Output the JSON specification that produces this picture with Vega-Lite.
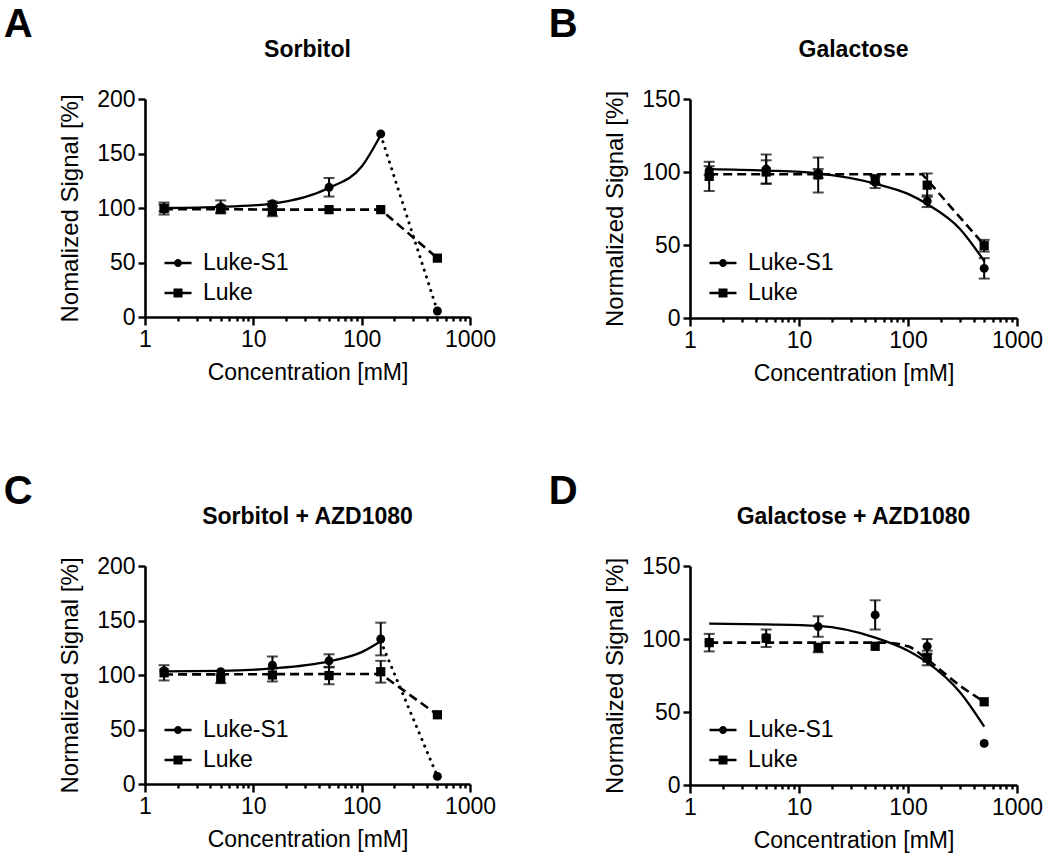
{
  "$schema": "https://vega.github.io/schema/vega-lite/v6.json",
  "padding": {"left": 3, "top": 5, "right": 5, "bottom": 5},
  "background": "white",
  "datasets": {
    "pts": [
      {"panel": "A", "series": "Luke-S1", "conc": 1.5, "y": 100, "err": 3},
      {"panel": "A", "series": "Luke-S1", "conc": 5, "y": 101, "err": 6},
      {"panel": "A", "series": "Luke-S1", "conc": 15, "y": 104, "err": 2},
      {"panel": "A", "series": "Luke-S1", "conc": 50, "y": 119, "err": 8.5},
      {"panel": "A", "series": "Luke-S1", "conc": 150, "y": 168, "err": 0},
      {"panel": "A", "series": "Luke-S1", "conc": 500, "y": 5.5, "err": 0},
      {"panel": "A", "series": "Luke", "conc": 1.5, "y": 99.5, "err": 5.5},
      {"panel": "A", "series": "Luke", "conc": 5, "y": 99, "err": 3},
      {"panel": "A", "series": "Luke", "conc": 15, "y": 97, "err": 4.5},
      {"panel": "A", "series": "Luke", "conc": 50, "y": 98.5, "err": 0},
      {"panel": "A", "series": "Luke", "conc": 150, "y": 98.5, "err": 0},
      {"panel": "A", "series": "Luke", "conc": 500, "y": 54, "err": 0},
      {"panel": "B", "series": "Luke-S1", "conc": 1.5, "y": 101, "err": 3},
      {"panel": "B", "series": "Luke-S1", "conc": 5, "y": 102, "err": 10},
      {"panel": "B", "series": "Luke-S1", "conc": 15, "y": 99, "err": 3},
      {"panel": "B", "series": "Luke-S1", "conc": 50, "y": 93, "err": 4},
      {"panel": "B", "series": "Luke-S1", "conc": 150, "y": 80, "err": 4},
      {"panel": "B", "series": "Luke-S1", "conc": 500, "y": 34, "err": 7},
      {"panel": "B", "series": "Luke", "conc": 1.5, "y": 97, "err": 10},
      {"panel": "B", "series": "Luke", "conc": 5, "y": 100, "err": 8},
      {"panel": "B", "series": "Luke", "conc": 15, "y": 98, "err": 12},
      {"panel": "B", "series": "Luke", "conc": 50, "y": 95, "err": 3},
      {"panel": "B", "series": "Luke", "conc": 150, "y": 91, "err": 8},
      {"panel": "B", "series": "Luke", "conc": 500, "y": 49.5, "err": 4},
      {"panel": "C", "series": "Luke-S1", "conc": 1.5, "y": 104, "err": 0},
      {"panel": "C", "series": "Luke-S1", "conc": 5, "y": 103, "err": 0},
      {"panel": "C", "series": "Luke-S1", "conc": 15, "y": 109, "err": 8},
      {"panel": "C", "series": "Luke-S1", "conc": 50, "y": 113, "err": 6},
      {"panel": "C", "series": "Luke-S1", "conc": 150, "y": 133, "err": 15},
      {"panel": "C", "series": "Luke-S1", "conc": 500, "y": 7, "err": 0},
      {"panel": "C", "series": "Luke", "conc": 1.5, "y": 102, "err": 7},
      {"panel": "C", "series": "Luke", "conc": 5, "y": 96.5, "err": 4},
      {"panel": "C", "series": "Luke", "conc": 15, "y": 100, "err": 6},
      {"panel": "C", "series": "Luke", "conc": 50, "y": 99.5, "err": 8},
      {"panel": "C", "series": "Luke", "conc": 150, "y": 103, "err": 10},
      {"panel": "C", "series": "Luke", "conc": 500, "y": 63.5, "err": 0},
      {"panel": "D", "series": "Luke-S1", "conc": 1.5, "y": 98, "err": 0},
      {"panel": "D", "series": "Luke-S1", "conc": 5, "y": 101, "err": 0},
      {"panel": "D", "series": "Luke-S1", "conc": 15, "y": 108.5, "err": 7},
      {"panel": "D", "series": "Luke-S1", "conc": 50, "y": 116.5, "err": 10},
      {"panel": "D", "series": "Luke-S1", "conc": 150, "y": 95, "err": 5},
      {"panel": "D", "series": "Luke-S1", "conc": 500, "y": 28.5, "err": 0},
      {"panel": "D", "series": "Luke", "conc": 1.5, "y": 97.5, "err": 6},
      {"panel": "D", "series": "Luke", "conc": 5, "y": 100.5, "err": 6},
      {"panel": "D", "series": "Luke", "conc": 15, "y": 94, "err": 3},
      {"panel": "D", "series": "Luke", "conc": 50, "y": 95, "err": 0},
      {"panel": "D", "series": "Luke", "conc": 150, "y": 87, "err": 5},
      {"panel": "D", "series": "Luke", "conc": 500, "y": 57, "err": 0}
    ],
    "curves": [
      {"panel": "A", "style": "solid", "conc": 1.5, "y": 100},
      {"panel": "A", "style": "solid", "conc": 5, "y": 101},
      {"panel": "A", "style": "solid", "conc": 15, "y": 104},
      {"panel": "A", "style": "solid", "conc": 50, "y": 118.5},
      {"panel": "A", "style": "solid", "conc": 100, "y": 138},
      {"panel": "A", "style": "solid", "conc": 150, "y": 167},
      {"panel": "A", "style": "dashed", "conc": 1.5, "y": 99},
      {"panel": "A", "style": "dashed", "conc": 5, "y": 99},
      {"panel": "A", "style": "dashed", "conc": 15, "y": 98.5},
      {"panel": "A", "style": "dashed", "conc": 50, "y": 98.5},
      {"panel": "A", "style": "dashed", "conc": 150, "y": 98.5},
      {"panel": "A", "style": "dashed", "conc": 500, "y": 54},
      {"panel": "A", "style": "dotted", "conc": 150, "y": 167},
      {"panel": "A", "style": "dotted", "conc": 500, "y": 5.5},
      {"panel": "B", "style": "solid", "conc": 1.5, "y": 102},
      {"panel": "B", "style": "solid", "conc": 5, "y": 101},
      {"panel": "B", "style": "solid", "conc": 15, "y": 99},
      {"panel": "B", "style": "solid", "conc": 50, "y": 92},
      {"panel": "B", "style": "solid", "conc": 100, "y": 85},
      {"panel": "B", "style": "solid", "conc": 150, "y": 78},
      {"panel": "B", "style": "solid", "conc": 300, "y": 61},
      {"panel": "B", "style": "solid", "conc": 500, "y": 39},
      {"panel": "B", "style": "dashed", "conc": 1.5, "y": 98.5},
      {"panel": "B", "style": "dashed", "conc": 135, "y": 98.5},
      {"panel": "B", "style": "dashed", "conc": 500, "y": 50},
      {"panel": "C", "style": "solid", "conc": 1.5, "y": 103.4},
      {"panel": "C", "style": "solid", "conc": 5, "y": 103.8},
      {"panel": "C", "style": "solid", "conc": 15, "y": 106},
      {"panel": "C", "style": "solid", "conc": 50, "y": 112.5},
      {"panel": "C", "style": "solid", "conc": 100, "y": 121},
      {"panel": "C", "style": "solid", "conc": 150, "y": 131},
      {"panel": "C", "style": "dashed", "conc": 1.5, "y": 100.5},
      {"panel": "C", "style": "dashed", "conc": 150, "y": 101},
      {"panel": "C", "style": "dashed", "conc": 500, "y": 63.5},
      {"panel": "C", "style": "dotted", "conc": 150, "y": 131},
      {"panel": "C", "style": "dotted", "conc": 500, "y": 7},
      {"panel": "D", "style": "solid", "conc": 1.5, "y": 110.5},
      {"panel": "D", "style": "solid", "conc": 5, "y": 110},
      {"panel": "D", "style": "solid", "conc": 15, "y": 109},
      {"panel": "D", "style": "solid", "conc": 50, "y": 101},
      {"panel": "D", "style": "solid", "conc": 100, "y": 92},
      {"panel": "D", "style": "solid", "conc": 150, "y": 84},
      {"panel": "D", "style": "solid", "conc": 300, "y": 63.5},
      {"panel": "D", "style": "solid", "conc": 500, "y": 40},
      {"panel": "D", "style": "dashedfit", "conc": 1.5, "y": 97.5},
      {"panel": "D", "style": "dashedfit", "conc": 60, "y": 97.5},
      {"panel": "D", "style": "dashedfit", "conc": 100, "y": 95},
      {"panel": "D", "style": "dashedfit", "conc": 150, "y": 86},
      {"panel": "D", "style": "dashedfit", "conc": 300, "y": 68},
      {"panel": "D", "style": "dashedfit", "conc": 500, "y": 57}
    ]
  },
  "spacing": 87,
  "resolve": {"scale": {"x": "independent", "y": "independent", "color": "independent", "fill": "independent"}, "legend": {"color": "independent", "fill": "independent"}, "axis": {"x": "independent", "y": "independent"}},
  "vconcat": [
    {
      "spacing": 52,
      "resolve": {"scale": {"x": "independent", "y": "independent", "color": "independent", "fill": "independent"}, "legend": {"color": "independent", "fill": "independent"}, "axis": {"x": "independent", "y": "independent"}},
      "hconcat": [
        {
          "title": {"text": "A", "anchor": "start", "fontSize": 40, "fontWeight": "bold", "dx": -55, "offset": -6},
          "resolve": {"scale": {"color": "independent", "fill": "independent"}, "legend": {"color": "independent", "fill": "independent"}},
          "vconcat": [
            {
              "title": {"text": "Sorbitol", "fontSize": 23, "fontWeight": "bold", "offset": 26},
              "width": 325, "height": 218,
              "encoding": {
                "x": {"field": "conc", "type": "quantitative", "scale": {"type": "log", "domain": [1, 1000], "nice": false}, "axis": {"title": "Concentration [mM]", "values": [1,2,3,4,5,6,7,8,9,10,20,30,40,50,60,70,80,90,100,200,300,400,500,600,700,800,900,1000], "labelExpr": "(datum.value == 1 || datum.value == 10 || datum.value == 100 || datum.value == 1000) ? format(datum.value, 'd') : ''", "labelOverlap": false, "labelFlush": false, "tickSize": {"condition": {"test": "datum.value == 1 || datum.value == 10 || datum.value == 100 || datum.value == 1000", "value": 8}, "value": 4}}},
                "y": {"field": "y", "type": "quantitative", "scale": {"domain": [0, 200], "nice": false}, "axis": {"title": "Nomalized Signal [%]", "values": [0, 50, 100, 150, 200]}}
              },
              "layer": [
                {"data": {"name": "curves"}, "transform": [{"filter": "datum.panel === 'A' && datum.style === 'solid'"}], "mark": {"type": "line", "color": "black", "strokeWidth": 2.3, "interpolate": "monotone"}},
                {"data": {"name": "curves"}, "transform": [{"filter": "datum.panel === 'A' && datum.style === 'dashed'"}], "mark": {"type": "line", "color": "black", "strokeWidth": 2.6, "strokeDash": [9, 5]}},
                {"data": {"name": "curves"}, "transform": [{"filter": "datum.panel === 'A' && datum.style === 'dotted'"}], "mark": {"type": "line", "color": "black", "strokeWidth": 3, "strokeDash": [0.1, 7], "strokeCap": "round"}},
                {"data": {"name": "pts"}, "transform": [{"filter": "datum.panel === 'A' && datum.err > 0"}], "mark": {"type": "errorbar", "color": "black", "ticks": {"size": 11, "thickness": 2}, "rule": {"strokeWidth": 2}}, "encoding": {"yError": {"field": "err"}}},
                {"data": {"name": "pts"}, "transform": [{"filter": "datum.panel === 'A' && datum.series === 'Luke-S1'"}], "mark": {"type": "point", "shape": "circle", "filled": true, "opacity": 1, "size": 80},
                 "encoding": {"color": {"field": "series", "type": "nominal", "scale": {"domain": ["Luke-S1"], "range": ["black"]}, "legend": {"title": null, "orient": "none", "legendX": 21, "legendY": 152, "labelOffset": 13, "symbolSize": 576, "padding": 0, "symbolStrokeWidth": 0, "symbolType": "M-1.125,-0.1H1.125V0.1H-1.125Z M0.33,0A0.33,0.33 0 1,1 -0.33,0A0.33,0.33 0 1,1 0.33,0Z"}}}},
                {"data": {"name": "pts"}, "transform": [{"filter": "datum.panel === 'A' && datum.series === 'Luke'"}], "mark": {"type": "point", "shape": "square", "filled": true, "opacity": 1, "size": 85},
                 "encoding": {"fill": {"field": "series", "type": "nominal", "scale": {"domain": ["Luke"], "range": ["black"]}, "legend": {"title": null, "orient": "none", "legendX": 21, "legendY": 182, "labelOffset": 13, "symbolSize": 576, "padding": 0, "symbolStrokeWidth": 0, "symbolType": "M-1.125,-0.1H1.125V0.1H-1.125Z M-0.375,-0.375H0.375V0.375H-0.375Z"}}}}
              ]
            }
          ]
        },
        {
          "title": {"text": "B", "anchor": "start", "fontSize": 40, "fontWeight": "bold", "dx": -55, "offset": -6},
          "resolve": {"scale": {"color": "independent", "fill": "independent"}, "legend": {"color": "independent", "fill": "independent"}},
          "vconcat": [
            {
              "title": {"text": "Galactose", "fontSize": 23, "fontWeight": "bold", "offset": 26},
              "width": 327, "height": 219,
              "encoding": {
                "x": {"field": "conc", "type": "quantitative", "scale": {"type": "log", "domain": [1, 1000], "nice": false}, "axis": {"title": "Concentration [mM]", "values": [1,2,3,4,5,6,7,8,9,10,20,30,40,50,60,70,80,90,100,200,300,400,500,600,700,800,900,1000], "labelExpr": "(datum.value == 1 || datum.value == 10 || datum.value == 100 || datum.value == 1000) ? format(datum.value, 'd') : ''", "labelOverlap": false, "labelFlush": false, "tickSize": {"condition": {"test": "datum.value == 1 || datum.value == 10 || datum.value == 100 || datum.value == 1000", "value": 8}, "value": 4}}},
                "y": {"field": "y", "type": "quantitative", "scale": {"domain": [0, 150], "nice": false}, "axis": {"title": "Normalized Signal [%]", "values": [0, 50, 100, 150]}}
              },
              "layer": [
                {"data": {"name": "curves"}, "transform": [{"filter": "datum.panel === 'B' && datum.style === 'solid'"}], "mark": {"type": "line", "color": "black", "strokeWidth": 2.3, "interpolate": "monotone"}},
                {"data": {"name": "curves"}, "transform": [{"filter": "datum.panel === 'B' && datum.style === 'dashed'"}], "mark": {"type": "line", "color": "black", "strokeWidth": 2.6, "strokeDash": [9, 5]}},
                {"data": {"name": "pts"}, "transform": [{"filter": "datum.panel === 'B' && datum.err > 0"}], "mark": {"type": "errorbar", "color": "black", "ticks": {"size": 11, "thickness": 2}, "rule": {"strokeWidth": 2}}, "encoding": {"yError": {"field": "err"}}},
                {"data": {"name": "pts"}, "transform": [{"filter": "datum.panel === 'B' && datum.series === 'Luke-S1'"}], "mark": {"type": "point", "shape": "circle", "filled": true, "opacity": 1, "size": 80},
                 "encoding": {"color": {"field": "series", "type": "nominal", "scale": {"domain": ["Luke-S1"], "range": ["black"]}, "legend": {"title": null, "orient": "none", "legendX": 21, "legendY": 152, "labelOffset": 13, "symbolSize": 576, "padding": 0, "symbolStrokeWidth": 0, "symbolType": "M-1.125,-0.1H1.125V0.1H-1.125Z M0.33,0A0.33,0.33 0 1,1 -0.33,0A0.33,0.33 0 1,1 0.33,0Z"}}}},
                {"data": {"name": "pts"}, "transform": [{"filter": "datum.panel === 'B' && datum.series === 'Luke'"}], "mark": {"type": "point", "shape": "square", "filled": true, "opacity": 1, "size": 85},
                 "encoding": {"fill": {"field": "series", "type": "nominal", "scale": {"domain": ["Luke"], "range": ["black"]}, "legend": {"title": null, "orient": "none", "legendX": 21, "legendY": 182, "labelOffset": 13, "symbolSize": 576, "padding": 0, "symbolStrokeWidth": 0, "symbolType": "M-1.125,-0.1H1.125V0.1H-1.125Z M-0.375,-0.375H0.375V0.375H-0.375Z"}}}}
              ]
            }
          ]
        }
      ]
    },
    {
      "spacing": 52,
      "resolve": {"scale": {"x": "independent", "y": "independent", "color": "independent", "fill": "independent"}, "legend": {"color": "independent", "fill": "independent"}, "axis": {"x": "independent", "y": "independent"}},
      "hconcat": [
        {
          "title": {"text": "C", "anchor": "start", "fontSize": 40, "fontWeight": "bold", "dx": -55, "offset": -6},
          "resolve": {"scale": {"color": "independent", "fill": "independent"}, "legend": {"color": "independent", "fill": "independent"}},
          "vconcat": [
            {
              "title": {"text": "Sorbitol + AZD1080", "fontSize": 23, "fontWeight": "bold", "offset": 26},
              "width": 325, "height": 218,
              "encoding": {
                "x": {"field": "conc", "type": "quantitative", "scale": {"type": "log", "domain": [1, 1000], "nice": false}, "axis": {"title": "Concentration [mM]", "values": [1,2,3,4,5,6,7,8,9,10,20,30,40,50,60,70,80,90,100,200,300,400,500,600,700,800,900,1000], "labelExpr": "(datum.value == 1 || datum.value == 10 || datum.value == 100 || datum.value == 1000) ? format(datum.value, 'd') : ''", "labelOverlap": false, "labelFlush": false, "tickSize": {"condition": {"test": "datum.value == 1 || datum.value == 10 || datum.value == 100 || datum.value == 1000", "value": 8}, "value": 4}}},
                "y": {"field": "y", "type": "quantitative", "scale": {"domain": [0, 200], "nice": false}, "axis": {"title": "Normalized Signal [%]", "values": [0, 50, 100, 150, 200]}}
              },
              "layer": [
                {"data": {"name": "curves"}, "transform": [{"filter": "datum.panel === 'C' && datum.style === 'solid'"}], "mark": {"type": "line", "color": "black", "strokeWidth": 2.3, "interpolate": "monotone"}},
                {"data": {"name": "curves"}, "transform": [{"filter": "datum.panel === 'C' && datum.style === 'dashed'"}], "mark": {"type": "line", "color": "black", "strokeWidth": 2.6, "strokeDash": [9, 5]}},
                {"data": {"name": "curves"}, "transform": [{"filter": "datum.panel === 'C' && datum.style === 'dotted'"}], "mark": {"type": "line", "color": "black", "strokeWidth": 3, "strokeDash": [0.1, 7], "strokeCap": "round"}},
                {"data": {"name": "pts"}, "transform": [{"filter": "datum.panel === 'C' && datum.err > 0"}], "mark": {"type": "errorbar", "color": "black", "ticks": {"size": 11, "thickness": 2}, "rule": {"strokeWidth": 2}}, "encoding": {"yError": {"field": "err"}}},
                {"data": {"name": "pts"}, "transform": [{"filter": "datum.panel === 'C' && datum.series === 'Luke-S1'"}], "mark": {"type": "point", "shape": "circle", "filled": true, "opacity": 1, "size": 80},
                 "encoding": {"color": {"field": "series", "type": "nominal", "scale": {"domain": ["Luke-S1"], "range": ["black"]}, "legend": {"title": null, "orient": "none", "legendX": 21, "legendY": 152, "labelOffset": 13, "symbolSize": 576, "padding": 0, "symbolStrokeWidth": 0, "symbolType": "M-1.125,-0.1H1.125V0.1H-1.125Z M0.33,0A0.33,0.33 0 1,1 -0.33,0A0.33,0.33 0 1,1 0.33,0Z"}}}},
                {"data": {"name": "pts"}, "transform": [{"filter": "datum.panel === 'C' && datum.series === 'Luke'"}], "mark": {"type": "point", "shape": "square", "filled": true, "opacity": 1, "size": 85},
                 "encoding": {"fill": {"field": "series", "type": "nominal", "scale": {"domain": ["Luke"], "range": ["black"]}, "legend": {"title": null, "orient": "none", "legendX": 21, "legendY": 182, "labelOffset": 13, "symbolSize": 576, "padding": 0, "symbolStrokeWidth": 0, "symbolType": "M-1.125,-0.1H1.125V0.1H-1.125Z M-0.375,-0.375H0.375V0.375H-0.375Z"}}}}
              ]
            }
          ]
        },
        {
          "title": {"text": "D", "anchor": "start", "fontSize": 40, "fontWeight": "bold", "dx": -55, "offset": -6},
          "resolve": {"scale": {"color": "independent", "fill": "independent"}, "legend": {"color": "independent", "fill": "independent"}},
          "vconcat": [
            {
              "title": {"text": "Galactose + AZD1080", "fontSize": 23, "fontWeight": "bold", "offset": 26},
              "width": 327, "height": 219,
              "encoding": {
                "x": {"field": "conc", "type": "quantitative", "scale": {"type": "log", "domain": [1, 1000], "nice": false}, "axis": {"title": "Concentration [mM]", "values": [1,2,3,4,5,6,7,8,9,10,20,30,40,50,60,70,80,90,100,200,300,400,500,600,700,800,900,1000], "labelExpr": "(datum.value == 1 || datum.value == 10 || datum.value == 100 || datum.value == 1000) ? format(datum.value, 'd') : ''", "labelOverlap": false, "labelFlush": false, "tickSize": {"condition": {"test": "datum.value == 1 || datum.value == 10 || datum.value == 100 || datum.value == 1000", "value": 8}, "value": 4}}},
                "y": {"field": "y", "type": "quantitative", "scale": {"domain": [0, 150], "nice": false}, "axis": {"title": "Normalized Signal [%]", "values": [0, 50, 100, 150]}}
              },
              "layer": [
                {"data": {"name": "curves"}, "transform": [{"filter": "datum.panel === 'D' && datum.style === 'solid'"}], "mark": {"type": "line", "color": "black", "strokeWidth": 2.3, "interpolate": "monotone"}},
                {"data": {"name": "curves"}, "transform": [{"filter": "datum.panel === 'D' && datum.style === 'dashedfit'"}], "mark": {"type": "line", "color": "black", "strokeWidth": 2.6, "strokeDash": [9, 5], "interpolate": "monotone"}},
                {"data": {"name": "pts"}, "transform": [{"filter": "datum.panel === 'D' && datum.err > 0"}], "mark": {"type": "errorbar", "color": "black", "ticks": {"size": 11, "thickness": 2}, "rule": {"strokeWidth": 2}}, "encoding": {"yError": {"field": "err"}}},
                {"data": {"name": "pts"}, "transform": [{"filter": "datum.panel === 'D' && datum.series === 'Luke-S1'"}], "mark": {"type": "point", "shape": "circle", "filled": true, "opacity": 1, "size": 80},
                 "encoding": {"color": {"field": "series", "type": "nominal", "scale": {"domain": ["Luke-S1"], "range": ["black"]}, "legend": {"title": null, "orient": "none", "legendX": 21, "legendY": 152, "labelOffset": 13, "symbolSize": 576, "padding": 0, "symbolStrokeWidth": 0, "symbolType": "M-1.125,-0.1H1.125V0.1H-1.125Z M0.33,0A0.33,0.33 0 1,1 -0.33,0A0.33,0.33 0 1,1 0.33,0Z"}}}},
                {"data": {"name": "pts"}, "transform": [{"filter": "datum.panel === 'D' && datum.series === 'Luke'"}], "mark": {"type": "point", "shape": "square", "filled": true, "opacity": 1, "size": 85},
                 "encoding": {"fill": {"field": "series", "type": "nominal", "scale": {"domain": ["Luke"], "range": ["black"]}, "legend": {"title": null, "orient": "none", "legendX": 21, "legendY": 182, "labelOffset": 13, "symbolSize": 576, "padding": 0, "symbolStrokeWidth": 0, "symbolType": "M-1.125,-0.1H1.125V0.1H-1.125Z M-0.375,-0.375H0.375V0.375H-0.375Z"}}}}
              ]
            }
          ]
        }
      ]
    }
  ],
  "config": {
    "font": "Liberation Sans",
    "view": {"stroke": null},
    "title": {"color": "black", "font": "Liberation Sans"},
    "axis": {
      "grid": false,
      "domainColor": "black", "domainWidth": 2.6,
      "tickColor": "black", "tickWidth": 2.4,
      "labelColor": "black", "labelFontSize": 23, "labelFont": "Liberation Sans",
      "titleColor": "black", "titleFontSize": 23, "titleFontWeight": "normal", "titleFont": "Liberation Sans"
    },
    "axisY": {"tickSize": 7, "labelPadding": 3, "titlePadding": 14, "titleFontSize": 24},
    "axisX": {"labelPadding": 3, "titlePadding": 10},
    "legend": {"labelFontSize": 23, "labelFont": "Liberation Sans", "labelColor": "black"}
  }
}
